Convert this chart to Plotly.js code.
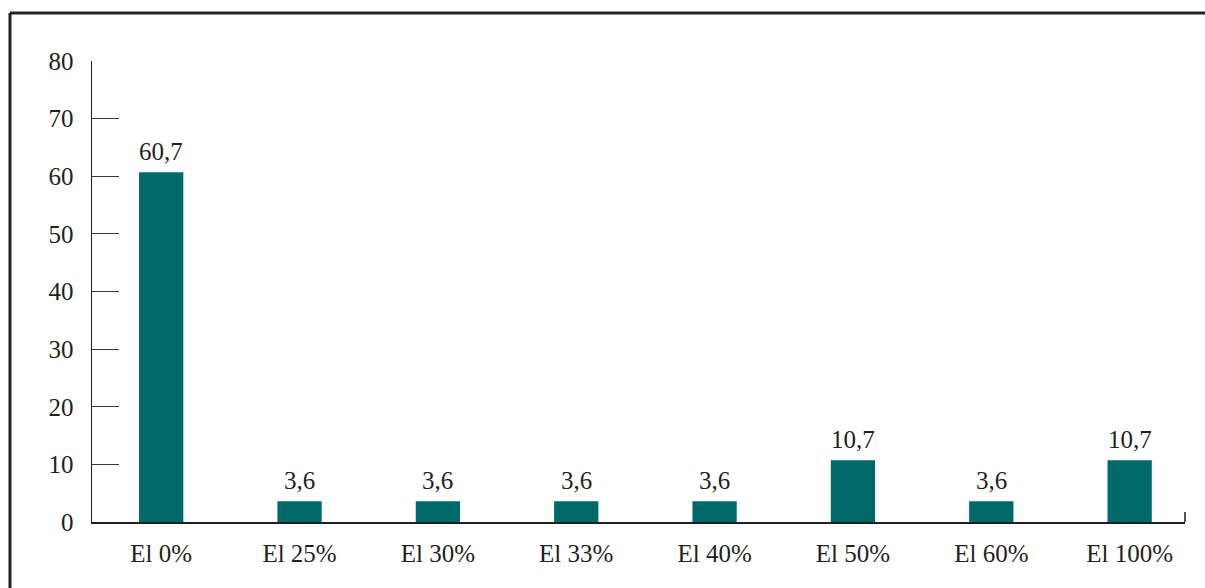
<!DOCTYPE html>
<html>
<head>
<meta charset="utf-8">
<script src="https://cdn.plot.ly/plotly-3.0.1.min.js"></script>
<style>
html,body{margin:0;padding:0;background:#fff;}
#chart{width:1205px;height:588px;}
</style>
</head>
<body>
<div id="chart"></div>
<script>
const categories = ["El 0%", "El 25%", "El 30%", "El 33%", "El 40%", "El 50%", "El 60%", "El 100%"];
const values = [60.7, 3.6, 3.6, 3.6, 3.6, 10.7, 3.6, 10.7];
const yTicks = [0, 10, 20, 30, 40, 50, 60, 70, 80];

const W = 1205, H = 588;
const L = 92, R = 1185, T = 61, B = 522;
const pw = R - L, ph = B - T;
const px = x => (x - L) / pw;
const py = y => (B - y) / ph;

const font = {family: "Liberation Serif, Times New Roman, serif", size: 25, color: '#231f20'};

const trace = {
  type: 'bar',
  x: categories,
  y: values,
  width: 0.32,
  marker: {color: '#006a6a'},
  hoverinfo: 'skip'
};

const labels = values.map((v, i) => ({
  x: categories[i], y: v, xref: 'x', yref: 'y',
  text: v.toFixed(1).replace('.', ','),
  showarrow: false, yanchor: 'bottom', xanchor: 'center', yshift: 5,
  font: font
}));

const layout = {
  width: W, height: H,
  margin: {l: L, r: W - R, t: T, b: H - B},
  paper_bgcolor: '#fff',
  plot_bgcolor: '#fff',
  showlegend: false,
  font: font,
  xaxis: {
    type: 'category',
    range: [-0.5, 7.4],
    showline: true, linecolor: '#231f20', linewidth: 1.5,
    ticks: 'outside', ticklen: 8, tickcolor: 'rgba(0,0,0,0)',
    showgrid: false, zeroline: false,
    tickfont: font, fixedrange: true
  },
  yaxis: {
    range: [0, 80],
    tickvals: yTicks,
    ticktext: yTicks.map(String),
    showline: true, linecolor: '#231f20', linewidth: 1.5,
    ticks: 'inside', ticklen: 27, tickwidth: 1.2, tickcolor: '#3a3a3a',
    ticklabelstandoff: 12,
    showgrid: false, zeroline: false,
    tickfont: font, fixedrange: true
  },
  annotations: labels,
  shapes: [
    {type: 'line', xref: 'paper', yref: 'paper', x0: px(10), y0: py(600), x1: px(10), y1: py(13), line: {color: '#222', width: 3}},
    {type: 'line', xref: 'paper', yref: 'paper', x0: px(10), y0: py(13), x1: px(1210), y1: py(13), line: {color: '#222', width: 3}},
    {type: 'line', xref: 'paper', yref: 'paper', x0: 1, y0: 0, x1: 1, y1: py(512), line: {color: '#231f20', width: 1.5}}
  ]
};

Plotly.newPlot('chart', [trace], layout, {staticPlot: true, displayModeBar: false});
</script>
</body>
</html>
